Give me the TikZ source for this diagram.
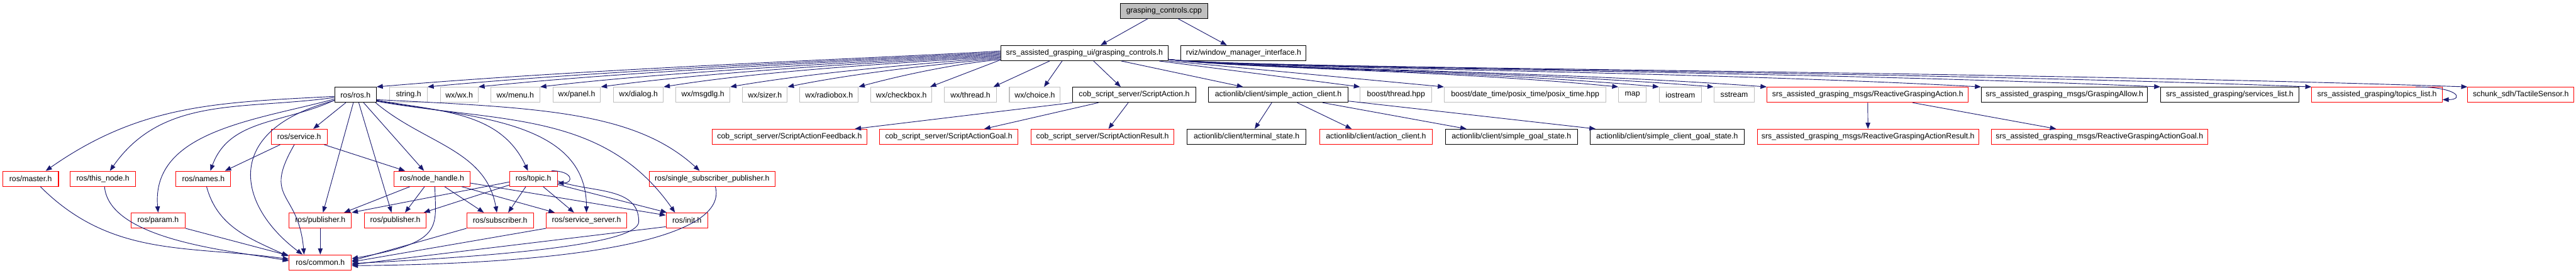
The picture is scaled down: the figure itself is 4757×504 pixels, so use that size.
\documentclass[tikz,border=0pt]{standalone}
\usepackage{fontspec}
\setmainfont{Liberation Sans}
\usetikzlibrary{arrows.meta}
\usetikzlibrary{calc}

\definecolor{edgeblue}{HTML}{191970}
\definecolor{boxgray}{HTML}{BFBFBF}

\begin{document}
\begin{tikzpicture}[x=0.75pt, y=0.75pt,
	hbox/.style={rectangle, draw, fill=white, line width=0.9pt, minimum height=21pt, inner sep=0pt, font=\fontsize{10.7}{12}\selectfont},
	wd/.style={minimum width=#1*0.75pt},
	hdoc/.style={hbox, draw=black},
	hred/.style={hbox, draw=red},
	hsys/.style={hbox, draw=boxgray},
	incl/.style={draw=edgeblue, line width=0.8pt, -{Triangle[length=8.5pt, width=6.5pt]}}]
	\fill[white] (0,0) rectangle (4757,-504);
	\useasboundingbox (0,0) rectangle (4757,-504);

	\node[hdoc, fill=boxgray, wd=161] (cpp) at (2149.5,-20) {grasping\_controls.cpp};

	\node[hdoc, wd=309] (gch)  at (2002.5,-98) {srs\_assisted\_grasping\_ui/grasping\_controls.h};
	\node[hdoc, wd=231] (rviz) at (2296.5,-98) {rviz/window\_manager\_interface.h};

	\node[hdoc, wd=77]  (rosh)     at (656.5,-175)  {ros/ros.h};
	\node[hsys, wd=69]  (strh)     at (754.5,-175)  {string.h};
	\node[hsys, wd=70]  (wxwx)     at (848,-175)    {wx/wx.h};
	\node[hsys, wd=91]  (wxmenu)   at (951.5,-175)  {wx/menu.h};
	\node[hsys, wd=88]  (wxpanel)  at (1065,-175)   {wx/panel.h};
	\node[hsys, wd=92]  (wxdialog) at (1179,-175)   {wx/dialog.h};
	\node[hsys, wd=100] (wxmsgdlg) at (1298,-175)   {wx/msgdlg.h};
	\node[hsys, wd=83]  (wxsizer)  at (1412.5,-175) {wx/sizer.h};
	\node[hsys, wd=108] (wxradio)  at (1531,-175)   {wx/radiobox.h};
	\node[hsys, wd=113] (wxcheck)  at (1664.5,-175) {wx/checkbox.h};
	\node[hsys, wd=96]  (wxthread) at (1792,-175)   {wx/thread.h};
	\node[hsys, wd=94]  (wxchoice) at (1911,-175)   {wx/choice.h};
	\node[hdoc, wd=227] (sa)       at (2094.5,-175) {cob\_script\_server/ScriptAction.h};
	\node[hdoc, wd=257] (sac)      at (2360.5,-175) {actionlib/client/simple\_action\_client.h};
	\node[hsys, wd=132] (bthread)  at (2578,-175)   {boost/thread.hpp};
	\node[hsys, wd=299] (posix)    at (2816.5,-175) {boost/date\_time/posix\_time/posix\_time.hpp};
	\node[hsys, wd=51]  (map)      at (3014.5,-175) {map};
	\node[hsys, wd=78]  (iostream) at (3103,-175)   {iostream};
	\node[hsys, wd=75]  (sstream)  at (3202.5,-175) {sstream};
	\node[hred, wd=372] (rga)      at (3449,-175)   {srs\_assisted\_grasping\_msgs/ReactiveGraspingAction.h};
	\node[hdoc, wd=307] (gallow)   at (3812.5,-175) {srs\_assisted\_grasping\_msgs/GraspingAllow.h};
	\node[hdoc, wd=255] (srvlist)  at (4117.5,-175) {srs\_assisted\_grasping/services\_list.h};
	\node[hred, wd=241] (toplist)  at (4389.5,-175) {srs\_assisted\_grasping/topics\_list.h};
	\node[hred, wd=196] (tactile)  at (4655,-175)   {schunk\_sdh/TactileSensor.h};

	\node[hred, wd=103] (service)   at (552.5,-252.5)  {ros/service.h};
	\node[hred, wd=286] (safeed)    at (1458,-252.5)   {cob\_script\_server/ScriptActionFeedback.h};
	\node[hred, wd=256] (sagoal)    at (1752,-252.5)   {cob\_script\_server/ScriptActionGoal.h};
	\node[hred, wd=264] (saresult)  at (2036,-252.5)   {cob\_script\_server/ScriptActionResult.h};
	\node[hdoc, wd=220] (termstate) at (2302,-252.5)   {actionlib/client/terminal\_state.h};
	\node[hred, wd=208] (aclient)   at (2541,-252.5)   {actionlib/client/action\_client.h};
	\node[hdoc, wd=244] (sgstate)   at (2791,-252.5)   {actionlib/client/simple\_goal\_state.h};
	\node[hdoc, wd=285] (scgstate)  at (3078.5,-252.5) {actionlib/client/simple\_client\_goal\_state.h};
	\node[hred, wd=409] (rgaresult) at (3449.5,-252.5) {srs\_assisted\_grasping\_msgs/ReactiveGraspingActionResult.h};
	\node[hred, wd=400] (rgagoal)   at (3877,-252.5)   {srs\_assisted\_grasping\_msgs/ReactiveGraspingActionGoal.h};

	\node[hred, wd=103] (master)   at (56.5,-330)  {ros/master.h};
	\node[hred, wd=120] (thisnode) at (190,-330)   {ros/this\_node.h};
	\node[hred, wd=101] (names)    at (375.5,-330) {ros/names.h};
	\node[hred, wd=140] (nhandle)  at (798,-330)   {ros/node\_handle.h};
	\node[hred, wd=88]  (topic)    at (985,-330)   {ros/topic.h};
	\node[hred, wd=232] (ssp)      at (1315,-330)  {ros/single\_subscriber\_publisher.h};

	\node[hred, wd=100] (param)     at (292,-407)    {ros/param.h};
	\node[hred, wd=115] (pub)       at (591.5,-407)  {ros/publisher.h};
	\node[hred, wd=114] (pubb)      at (730,-407)    {ros/publisher.h};
	\node[hred, wd=123] (subscr)    at (923.5,-407)  {ros/subscriber.h};
	\node[hred, wd=148] (srvserver) at (1083,-407)   {ros/service\_server.h};
	\node[hred, wd=77]  (init)      at (1268.5,-407) {ros/init.h};

	\node[hred, wd=115] (common) at (591.5,-484.5) {ros/common.h};

	\draw[incl] ($(cpp.south)+(-30,0)$) -- ($(gch.north)+(30,0)$);
	\draw[incl] ($(cpp.south)+(26,0)$) -- ($(rviz.north)+(-31,0)$);

	\draw[incl] ($(gch.west)+(0,4)$)   .. controls +(-100,-8) and +(404,35) .. (rosh.north east);
	\draw[incl] ($(gch.west)+(0,2)$)   .. controls +(-100,-8) and +(371,35) .. (strh.north east);
	\draw[incl] ($(gch.west)+(0,0)$)   .. controls +(-100,-8) and +(338,35) .. (wxwx.north east);
	\draw[incl] ($(gch.west)+(0,-2)$)  .. controls +(-100,-8) and +(298,35) .. (wxmenu.north east);
	\draw[incl] ($(gch.west)+(0,-4)$)  .. controls +(-100,-8) and +(259,35) .. (wxpanel.north east);
	\draw[incl] ($(gch.west)+(0,-6)$)  .. controls +(-100,-8) and +(218,35) .. (wxdialog.north east);
	\draw[incl] ($(gch.west)+(0,-8)$)  .. controls +(-100,-8) and +(175,30) .. (wxmsgdlg.north east);
	\draw[incl] ($(gch.west)+(0,-10)$) .. controls +(-90,-8) and +(138,28) .. (wxsizer.north east);
	\draw[incl] ($(gch.west)+(0,-12)$) .. controls +(-70,-6) and +(92,25) .. (wxradio.north east);
	\draw[incl] ($(gch.south west)+(0,2)$) -- ($(wxcheck.north east)+(-4,0)$);
	\draw[incl] ($(gch.south west)+(91,0)$) -- ($(wxthread.north east)+(-6,0)$);
	\draw[incl] ($(gch.south west)+(114,0)$) -- ($(wxchoice.north)+(17,0)$);
	\draw[incl] ($(gch.south west)+(172,0)$) -- ($(sa.north)+(-25,0)$);
	\draw[incl] ($(gch.south west)+(223,0)$) -- ($(sac.north)+(-65,0)$);
	\draw[incl] ($(gch.south east)+(-17,0)$) -- (bthread.north west);
	\draw[incl] (gch.south east) -- (posix.north west);
	\draw[incl] ($(gch.south east)+(0,3)$) .. controls +(150,-18) and +(-333,32) .. (map.north west);
	\draw[incl] ($(gch.south east)+(0,3)$) .. controls +(150,-18) and +(-363,32) .. (iostream.north west);
	\draw[incl] ($(gch.south east)+(0,3)$) .. controls +(150,-18) and +(-403,32) .. (sstream.north west);
	\draw[incl] ($(gch.south east)+(0,3)$) .. controls +(150,-18) and +(-442,32) .. (rga.north west);
	\draw[incl] ($(gch.south east)+(0,3)$) .. controls +(150,-18) and +(-600,32) .. (gallow.north west);
	\draw[incl] ($(gch.south east)+(0,3)$) .. controls +(150,-18) and +(-733,32) .. (srvlist.north west);
	\draw[incl] ($(gch.south east)+(0,3)$) .. controls +(150,-18) and +(-845,32) .. (toplist.north west);
	\draw[incl] ($(gch.south east)+(0,3)$) .. controls +(150,-18) and +(-960,32) .. (tactile.north west);

	\draw[incl] (sa.south west) -- ($(safeed.north east)+(-23,0)$);
	\draw[incl] ($(sa.south west)+(48,0)$) -- ($(sagoal.north east)+(-63,0)$);
	\draw[incl] ($(sa.south)+(-11,0)$) -- ($(saresult.north)+(11,0)$);
	\draw[incl] ($(sac.south)+(-12,0)$) -- ($(termstate.north)+(15,0)$);
	\draw[incl] ($(sac.south)+(35,0)$) -- ($(aclient.north)+(-45,0)$);
	\draw[incl] ($(sac.south)+(82,0)$) -- ($(sgstate.north)+(-83,0)$);
	\draw[incl] ($(sac.south east)+(0,3)$) -- ($(scgstate.north west)+(11,0)$);
	\draw[incl] (rga.south) -- (rgaresult.north);
	\draw[incl] ($(rga.south)+(83,0)$) -- ($(rgagoal.north)+(-80,0)$);
	\draw[incl] ($(toplist.north east)+(-50,0)$) .. controls +(80,0) and +(40,0) .. ($(toplist.east)+(0,-9)$);

	\draw[incl] ($(rosh.west)+(0,-3)$) to[out=183,in=35] ($(master.north)+(28,0)$);
	\draw[incl] ($(rosh.west)+(0,-5)$) to[out=188,in=55] ($(thisnode.north)+(13,0)$);
	\draw[incl] ($(rosh.west)+(0,-8)$) to[out=195,in=95] (param.north);
	\draw[incl] ($(rosh.west)+(0,-10)$) to[out=205,in=70] ($(names.north)+(13,0)$);
	\draw[incl] ($(rosh.south west)+(0,4)$) .. controls +(-210,-55) and +(-120,90) .. ($(common.north)+(-33,0)$);
	\draw[incl] ($(rosh.south)+(-18,0)$) -- ($(service.north)+(26,0)$);
	\draw[incl] ($(rosh.south)+(-4,0)$) -- ($(pub.north)+(5,0)$);
	\draw[incl] ($(rosh.south)+(6,0)$) -- ($(pubb.north)+(-7,0)$);
	\draw[incl] ($(rosh.south)+(15,0)$) -- ($(nhandle.north)+(-15,0)$);
	\draw[incl] ($(rosh.south east)+(-2,0)$) to[out=-40,in=100] ($(subscr.north)+(-6,0)$);
	\draw[incl] ($(rosh.east)+(0,-10)$) to[out=-10,in=115] ($(topic.north)+(-10,0)$);
	\draw[incl] ($(rosh.east)+(0,-11)$) to[out=-10,in=90] (srvserver.north);
	\draw[incl] ($(rosh.east)+(0,-12)$) to[out=-10,in=125] ($(init.north)+(-22,0)$);
	\draw[incl] ($(rosh.east)+(0,-9)$) .. controls +(300,-15) and +(-120,110) .. ($(ssp.north)+(-23,0)$);

	\draw[incl] ($(service.south west)+(17,0)$) -- ($(names.north)+(40,0)$);
	\draw[incl] ($(service.south)+(-9,0)$) to[out=240,in=95,looseness=1.5] ($(common.north)+(-30,0)$);
	\draw[incl] ($(service.south east)+(-6,0)$) -- ($(nhandle.north)+(-50,0)$);

	\draw[incl] ($(master.south)+(18,0)$) to[out=-45,in=172] ($(common.west)+(0,6)$);
	\draw[incl] ($(thisnode.south)+(3,0)$) to[out=-85,in=170,looseness=0.7] ($(common.west)+(0,3)$);
	\draw[incl] ($(names.south)+(6,0)$) to[out=-75,in=155] ($(common.north west)+(-2,-3)$);
	\draw[incl] (param.south east) -- ($(common.north west)+(0,-2)$);
	\draw[incl] (pub) -- (common);

	\draw[incl] ($(nhandle.south)+(-41,0)$) -- ($(pub.north)+(44,0)$);
	\draw[incl] ($(nhandle.south)+(-14,0)$) -- ($(pubb.north)+(18,0)$);
	\draw[incl] ($(nhandle.south)+(5,0)$) .. controls +(2,-76) and +(170,30) .. ($(common.east)+(0,7)$);
	\draw[incl] ($(nhandle.south)+(23,0)$) -- ($(subscr.north)+(-30,0)$);
	\draw[incl] ($(nhandle.south east)+(-16,0)$) -- ($(srvserver.north west)+(16,0)$);
	\draw[incl] ($(nhandle.east)+(0,-8)$) -- ($(init.north west)+(0,-5)$);

	\draw[incl] ($(topic.north east)+(-11,0)$) .. controls +(40,0) and +(30,0) .. ($(topic.east)+(0,-8)$);
	\draw[incl] ($(topic.west)+(0,-6)$) -- (pub.north east);
	\draw[incl] ($(topic.south west)+(0,3)$) -- ($(pubb.north east)+(-5,0)$);
	\draw[incl] ($(topic.south)+(-14,0)$) -- ($(subscr.north)+(15,0)$);
	\draw[incl] ($(topic.south)+(18,0)$) -- ($(srvserver.north)+(-23,0)$);
	\draw[incl] ($(topic.south east)+(0,4)$) -- ($(init.north west)+(2,0)$);
	\draw[incl] ($(topic.east)+(0,-4)$) to[out=-20,in=90] ++(150,-75) .. controls +(0,-40) and +(300,15) .. ($(common.east)+(0,-2)$);

	\draw[incl] (subscr.south west) -- ($(common.east)+(0,3)$);
	\draw[incl] (srvserver.south west) -- ($(common.east)+(0,1)$);
	\draw[incl] ($(init.south west)+(0,3)$) -- ($(common.east)+(0,-4)$);
	\draw[incl] ($(ssp.south)+(6,0)$) .. controls +(24,-90) and +(450,4) .. ($(common.east)+(0,-6)$);
\end{tikzpicture}
\end{document}
